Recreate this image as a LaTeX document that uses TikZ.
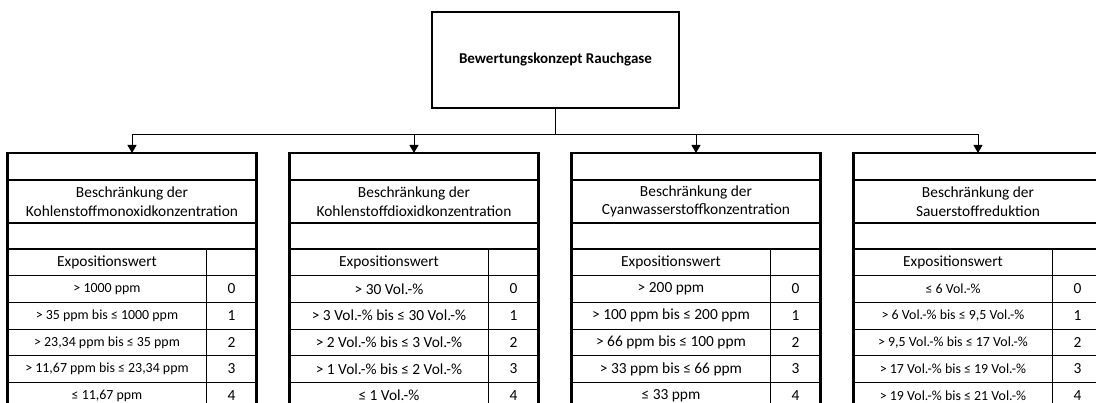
\documentclass[tikz,border=0pt]{standalone}
\usepackage{fontspec}
\setmainfont{Carlito}
\usetikzlibrary{arrows.meta}

% one assessment column: header block, then a two-column value table
% #1 name prefix, #2 left x, #3 second title line, #4 row font style,
% #5..#9 the five exposure ranges (scores 0..4)
\newcommand\gascolumn[9]{%
  \node[cell,heavy,minimum height=27pt] (#1-a) at (#2,153) {};
  \node[cell,heavy,minimum height=43pt,font=\hdrfont] (#1-t) at (#1-a.south west) {Beschränkung der\\#3};
  \node[cell,heavy,minimum height=26pt] (#1-b) at (#1-t.south west) {};
  \node[vcell,font=\hdrfont] (#1-v0) at (#1-b.south west) {Expositionswert};
  \node[scell] (#1-s0) at (#1-v0.north east) {};
  \node[vcell,#4] (#1-v1) at (#1-v0.south west) {#5};
  \node[scell] (#1-s1) at (#1-v1.north east) {0};
  \node[vcell,#4] (#1-v2) at (#1-v1.south west) {#6};
  \node[scell] (#1-s2) at (#1-v2.north east) {1};
  \node[vcell,#4] (#1-v3) at (#1-v2.south west) {#7};
  \node[scell] (#1-s3) at (#1-v3.north east) {2};
  \node[vcell,#4] (#1-v4) at (#1-v3.south west) {#8};
  \node[scell] (#1-s4) at (#1-v4.north east) {3};
  \node[vcell,#4] (#1-v5) at (#1-v4.south west) {#9};
  \node[scell] (#1-s5) at (#1-v5.north east) {4};
  \draw[heavy] (#1-b.south west) -- (#1-v5.south west);
  \draw[heavy] (#1-b.south east) -- (#1-s5.south east);
}
\newcommand\hdrfont{\fontsize{15.4}{18.6}\selectfont}

\begin{document}
\begin{tikzpicture}[x=1pt,y=-1pt,
  heavy/.style={line width=2.6pt},
  light/.style={line width=1pt},
  cell/.style={draw,rectangle,inner sep=0pt,outer sep=0pt,anchor=north west,
    align=center,minimum width=249pt},
  vcell/.style={draw,light,rectangle,inner sep=0pt,outer sep=0pt,anchor=north west,
    minimum width=199pt,minimum height=26.67pt},
  scell/.style={draw,light,rectangle,inner sep=0pt,outer sep=0pt,anchor=north west,
    minimum width=50pt,minimum height=26.67pt,font=\hdrfont},
  smallrow/.style={font=\fontsize{13.9}{16}\selectfont},
  largerow/.style={font=\hdrfont},
  tip/.style={-{Triangle[width=9pt,length=8pt]}}
]
\useasboundingbox (0,0) rectangle (1096,403);

% root box
\node[draw,heavy,rectangle,inner sep=0pt,outer sep=0pt,minimum width=247pt,minimum height=96pt,
  font=\bfseries\fontsize{15}{18}\selectfont] (root) at (555.5,60) {Bewertungskonzept Rauchgase};

\gascolumn{co}{7.5}{Kohlenstoffmonoxidkonzentration}{smallrow}
  {> 1000 ppm}{> 35 ppm bis ≤ 1000 ppm}{> 23,34 ppm bis ≤ 35 ppm}{> 11,67 ppm bis ≤ 23,34 ppm}{≤ 11,67 ppm}
\gascolumn{cd}{289.5}{Kohlenstoffdioxidkonzentration}{largerow}
  {> 30 Vol.-\%}{> 3 Vol.-\% bis ≤ 30 Vol.-\%}{> 2 Vol.-\% bis ≤ 3 Vol.-\%}{> 1 Vol.-\% bis ≤ 2 Vol.-\%}{≤ 1 Vol.-\%}
\gascolumn{hcn}{571.5}{Cyanwasserstoffkonzentration}{largerow}
  {> 200 ppm}{> 100 ppm bis ≤ 200 ppm}{> 66 ppm bis ≤ 100 ppm}{> 33 ppm bis ≤ 66 ppm}{≤ 33 ppm}
\gascolumn{ox}{853.5}{Sauerstoffreduktion}{smallrow}
  {≤ 6 Vol.-\%}{> 6 Vol.-\% bis ≤ 9,5 Vol.-\%}{> 9,5 Vol.-\% bis ≤ 17 Vol.-\%}{> 17 Vol.-\% bis ≤ 19 Vol.-\%}{> 19 Vol.-\% bis ≤ 21 Vol.-\%}

% distribution bus from the root to the four columns
\coordinate (bus) at (555.5,135);
\draw[light] (root.south) -- (bus);
\foreach \c in {co,cd,hcn,ox}
  \draw[light,tip] (bus) -| (\c-a.north);
\end{tikzpicture}
\end{document}
